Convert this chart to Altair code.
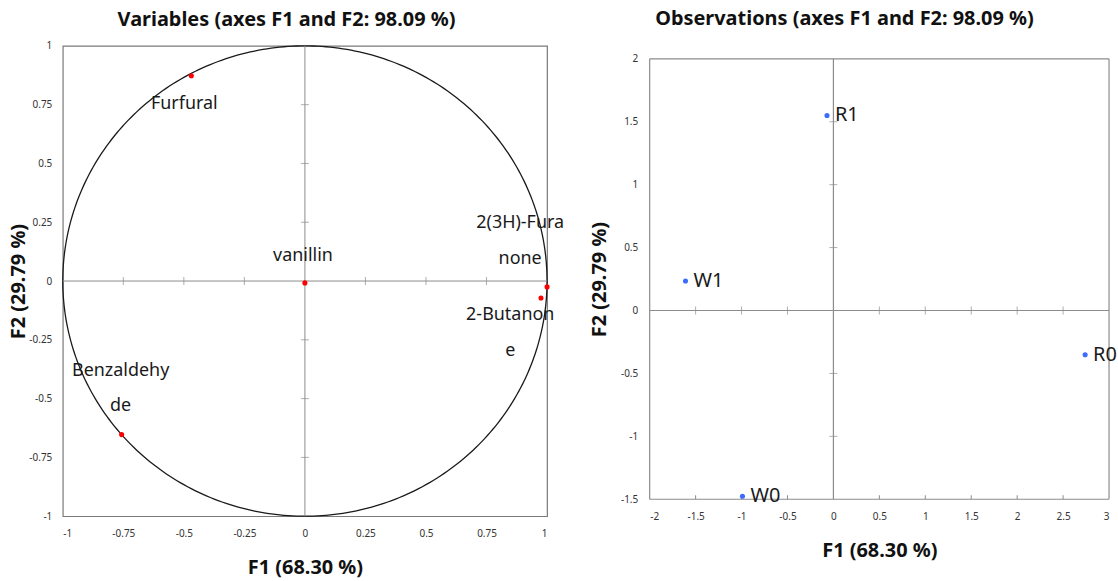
import altair as alt
import pandas as pd
import numpy as np

# ---- Data: variables (correlation circle) ----
var_names = ["Furfural", "vanillin", "2(3H)-Furanone", "2-Butanone", "Benzaldehyde"]
var_labels = ["Furfural", "vanillin", "2(3H)-Fura\nnone", "2-Butanon\ne", "Benzaldehy\nde"]
var_f1 = [-0.469, 0.0, 1.0, 0.975, -0.757]
var_f2 = [0.873, -0.008, -0.025, -0.072, -0.653]
var_label_f1 = [-0.498, -0.008, 0.889, 0.848, -0.761]
var_label_f2 = [0.754, 0.106, 0.246, -0.144, -0.381]

# ---- Data: observations ----
obs_names = ["R1", "W1", "R0", "W0"]
obs_f1 = [-0.07, -1.61, 2.74, -0.99]
obs_f2 = [1.55, 0.234, -0.352, -1.476]

# ---- Tick values ----
left_ticks = [-1, -0.75, -0.5, -0.25, 0, 0.25, 0.5, 0.75, 1]
right_x_ticks = [-2, -1.5, -1, -0.5, 0, 0.5, 1, 1.5, 2, 2.5, 3]
right_y_ticks = [-1.5, -1, -0.5, 0, 0.5, 1, 1.5, 2]

FONT = "Noto Sans"
LW, LH = 486, 472
RW, RH_FRAME, R_TOP_GAP = 461, 442, 13
RH = RH_FRAME + R_TOP_GAP
R_YMIN, R_YMAX = -1.5, 2
R_YTOP = R_YMAX + R_TOP_GAP * (R_YMAX - R_YMIN) / RH_FRAME

var_df = pd.DataFrame({"name": var_names, "label": var_labels, "f1": var_f1, "f2": var_f2,
                       "lf1": var_label_f1, "lf2": var_label_f2})
obs_df = pd.DataFrame({"name": obs_names, "f1": obs_f1, "f2": obs_f2})

theta = np.linspace(0, 2 * np.pi, 361)
circle_df = pd.DataFrame({"cx": np.cos(theta), "cy": np.sin(theta), "i": np.arange(361)})

GRAY = "#8c8c8c"

# ---------------- Left panel ----------------
lx_scale = alt.Scale(domain=[-1, 1], nice=False, zero=False)
ly_scale = alt.Scale(domain=[-1, 1], nice=False, zero=False)

lx_axis = alt.Axis(values=left_ticks, grid=False, ticks=False, domain=False, labelPadding=12,
                   labelExpr="'' + datum.value", title="F1 (68.30 %)", titleX=LW / 2, titleY=52,
                   titleBaseline="middle", titleAlign="center")
ly_axis = alt.Axis(values=left_ticks, grid=False, ticks=False, domain=False, labelPadding=11,
                   labelExpr="'' + datum.value", title="F2 (29.79 %)", titleX=-44, titleY=LH / 2,
                   titleAngle=270, titleBaseline="middle", titleAlign="center")

circle = alt.Chart(circle_df).mark_line(color="#1a1a1a", strokeWidth=1.3).encode(
    x=alt.X("cx:Q", scale=lx_scale, axis=lx_axis),
    y=alt.Y("cy:Q", scale=ly_scale, axis=ly_axis),
    order="i:Q",
)
zero_df = pd.DataFrame({"z": [0]})
vline_l = alt.Chart(zero_df).mark_rule(color=GRAY, strokeWidth=1).encode(x=alt.X("z:Q", scale=lx_scale))
hline_l = alt.Chart(zero_df).mark_rule(color=GRAY, strokeWidth=1).encode(y=alt.Y("z:Q", scale=ly_scale))
lt_df = pd.DataFrame({"t": [t for t in left_ticks if t not in (-1, 0, 1)]})
xticks_l = alt.Chart(lt_df).mark_tick(orient="vertical", size=8, thickness=1, color=GRAY).encode(
    x=alt.X("t:Q", scale=lx_scale), y=alt.datum(0, scale=ly_scale))
yticks_l = alt.Chart(lt_df).mark_tick(orient="horizontal", size=8, thickness=1, color=GRAY).encode(
    y=alt.Y("t:Q", scale=ly_scale), x=alt.datum(0, scale=lx_scale))
var_pts = alt.Chart(var_df).mark_circle(color="#ff0000", size=26, opacity=1).encode(
    x=alt.X("f1:Q", scale=lx_scale), y=alt.Y("f2:Q", scale=ly_scale))
var_txt = alt.Chart(var_df).mark_text(font=FONT, fontSize=18, color="#1a1a1a", lineBreak="\n",
                                      lineHeight=36, align="center", baseline="middle").encode(
    x=alt.X("lf1:Q", scale=lx_scale), y=alt.Y("lf2:Q", scale=ly_scale), text="label:N")

left = alt.layer(circle, vline_l, hline_l, xticks_l, yticks_l, var_pts, var_txt).properties(
    width=LW, height=LH,
    title=alt.TitleParams("Variables (axes F1 and F2: 98.09 %)", offset=11, anchor="middle",
                          frame="bounds"),
)

# ---------------- Right panel ----------------
rx_scale = alt.Scale(domain=[-2, 3], nice=False, zero=False)
ry_scale = alt.Scale(domain=[R_YMIN, R_YTOP], nice=False, zero=False)
rx_axis = alt.Axis(values=right_x_ticks, grid=False, ticks=False, domain=False, labelPadding=12,
                   labelExpr="'' + datum.value", title="F1 (68.30 %)", titleX=RW / 2, titleY=51,
                   titleBaseline="middle", titleAlign="center")
ry_axis = alt.Axis(values=right_y_ticks, grid=False, ticks=False, domain=False, labelPadding=12,
                   labelExpr="'' + datum.value", title="F2 (29.79 %)", titleX=-50,
                   titleY=R_TOP_GAP + RH_FRAME / 2,
                   titleAngle=270, titleBaseline="middle", titleAlign="center")

# frame of the right panel
frame_v = alt.Chart(pd.DataFrame({"x": [-2, 3, 0]})).mark_rule(color=GRAY, strokeWidth=1.2).encode(
    x=alt.X("x:Q", scale=rx_scale, axis=rx_axis),
    y=alt.datum(R_YMIN, scale=ry_scale, axis=ry_axis), y2=alt.datum(R_YMAX))
frame_h = alt.Chart(pd.DataFrame({"y": [R_YMIN, R_YMAX]})).mark_rule(color=GRAY, strokeWidth=1.2).encode(
    y=alt.Y("y:Q", scale=ry_scale))
hline_r = alt.Chart(zero_df).mark_rule(color=GRAY, strokeWidth=1).encode(
    y=alt.Y("z:Q", scale=ry_scale))
ryt_df = pd.DataFrame({"t": [t for t in right_y_ticks if t not in (R_YMIN, 0, R_YMAX)]})
rxt_df = pd.DataFrame({"t": [t for t in right_x_ticks if t not in (-2, 0, 3)]})
yticks_r = alt.Chart(ryt_df).mark_tick(orient="horizontal", size=8, thickness=1, color=GRAY).encode(
    y=alt.Y("t:Q", scale=ry_scale), x=alt.datum(0, scale=rx_scale))
xticks_r = alt.Chart(rxt_df).mark_tick(orient="vertical", size=8, thickness=1, color=GRAY).encode(
    x=alt.X("t:Q", scale=rx_scale), y=alt.datum(0, scale=ry_scale))
bticks_r = alt.Chart(rxt_df).mark_rule(color=GRAY, strokeWidth=1).encode(
    x=alt.X("t:Q", scale=rx_scale), y=alt.value(RH), y2=alt.value(RH - 4))
obs_pts = alt.Chart(obs_df).mark_circle(color="#3d6bff", size=26, opacity=1).encode(
    x=alt.X("f1:Q", scale=rx_scale), y=alt.Y("f2:Q", scale=ry_scale))
obs_txt = alt.Chart(obs_df).mark_text(font=FONT, fontSize=20, color="#1a1a1a", align="left",
                                      baseline="middle", dx=8).encode(
    x=alt.X("f1:Q", scale=rx_scale), y=alt.Y("f2:Q", scale=ry_scale), text="name:N")

right = alt.layer(frame_v, frame_h, hline_r, yticks_r, xticks_r, bticks_r, obs_pts, obs_txt).properties(
    width=RW, height=RH,
    view=alt.ViewBackground(stroke="transparent"),
    title=alt.TitleParams("Observations (axes F1 and F2: 98.09 %)", offset=17, anchor="middle",
                          frame="bounds", dx=-9),
)

chart = alt.hconcat(left, right, spacing=24).properties(
    padding={"left": 8, "top": 7, "right": 0, "bottom": 0}
).configure_view(
    stroke="#7a7a7a", strokeWidth=1.2
).configure_axis(
    labelFont=FONT, labelFontSize=10, labelColor="#333333",
    titleFont=FONT, titleFontSize=20, titleFontWeight="bold", titleColor="#111111",
).configure_title(
    font=FONT, fontSize=20, fontWeight="bold", color="#111111"
)

chart.save("out.html", embed_options={"renderer": "svg", "actions": False})
